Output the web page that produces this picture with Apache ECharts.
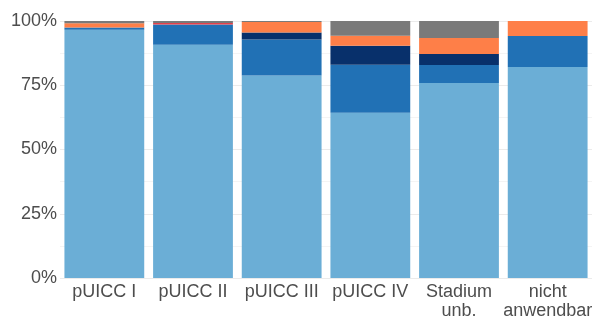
<!DOCTYPE html>
<html>
<head>
<meta charset="utf-8">
<script src="https://cdn.jsdelivr.net/npm/echarts@6/dist/echarts.min.js"></script>
<style>
  html, body { margin: 0; padding: 0; background: #fff; }
  #chart { width: 598px; height: 321px; }
</style>
</head>
<body>
<div id="chart"></div>
<script>
// Stadien (x-Achse)
const categories = ["pUICC I", "pUICC II", "pUICC III", "pUICC IV", "Stadium\nunb.", "nicht\nanwendbar"];

// Anteile in %, von unten nach oben gestapelt
const lightBlue = [96.6, 90.8, 78.8, 64.3, 75.9, 82.1];
const midBlue   = [0.9, 7.8, 14.0, 18.7, 7.0, 12.1];
const navy      = [0.0, 0.0, 2.7, 7.4, 4.3, 0.0];
const red       = [0.0, 0.6, 0.0, 0.0, 0.0, 0.0];
const orange    = [1.6, 0.0, 4.1, 3.9, 6.2, 5.8];
const gray      = [0.9, 0.8, 0.4, 5.7, 6.6, 0.0];

const yTicks = [0, 25, 50, 75, 100];

const chart = echarts.init(document.getElementById("chart"));

const mk = (name, data, color) => ({
    name: name,
    type: "bar",
    stack: "total",
    data: data,
    barCategoryGap: "10%",
    itemStyle: { color: color },
});

const option = {
    animation: false,
    grid: { left: 60, right: 6, top: 21, bottom: 43 },
    xAxis: {
        type: "category",
        data: categories,
        axisLine: { show: false },
        axisTick: { show: false },
        axisLabel: {
            color: "#4d4d4d",
            fontSize: 18,
            fontFamily: "Liberation Sans, Arial, sans-serif",
            lineHeight: 19,
            margin: 5,
            interval: 0,
        },
    },
    yAxis: {
        type: "value",
        min: yTicks[0],
        max: yTicks[yTicks.length - 1],
        interval: 25,
        axisLine: { show: false },
        axisTick: { show: false },
        axisLabel: {
            color: "#4d4d4d",
            fontSize: 18,
            fontFamily: "Liberation Sans, Arial, sans-serif",
            margin: 3,
            formatter: (v) => v + "%",
        },
        splitLine: { lineStyle: { color: "#ebebeb", width: 1 } },
        minorTick: { show: false, splitNumber: 2 },
        minorSplitLine: { show: true, lineStyle: { color: "#f4f4f4", width: 1 } },
    },
    series: [
        mk("Gruppe 1", lightBlue, "#6baed6"),
        mk("Gruppe 2", midBlue, "#2171b5"),
        mk("Gruppe 3", navy, "#08306b"),
        mk("Gruppe 4", red, "#e5404a"),
        mk("Gruppe 5", orange, "#fe7f48"),
        mk("Gruppe 6", gray, "#7a7a7a"),
    ],
};

chart.setOption(option);
</script>
</body>
</html>
